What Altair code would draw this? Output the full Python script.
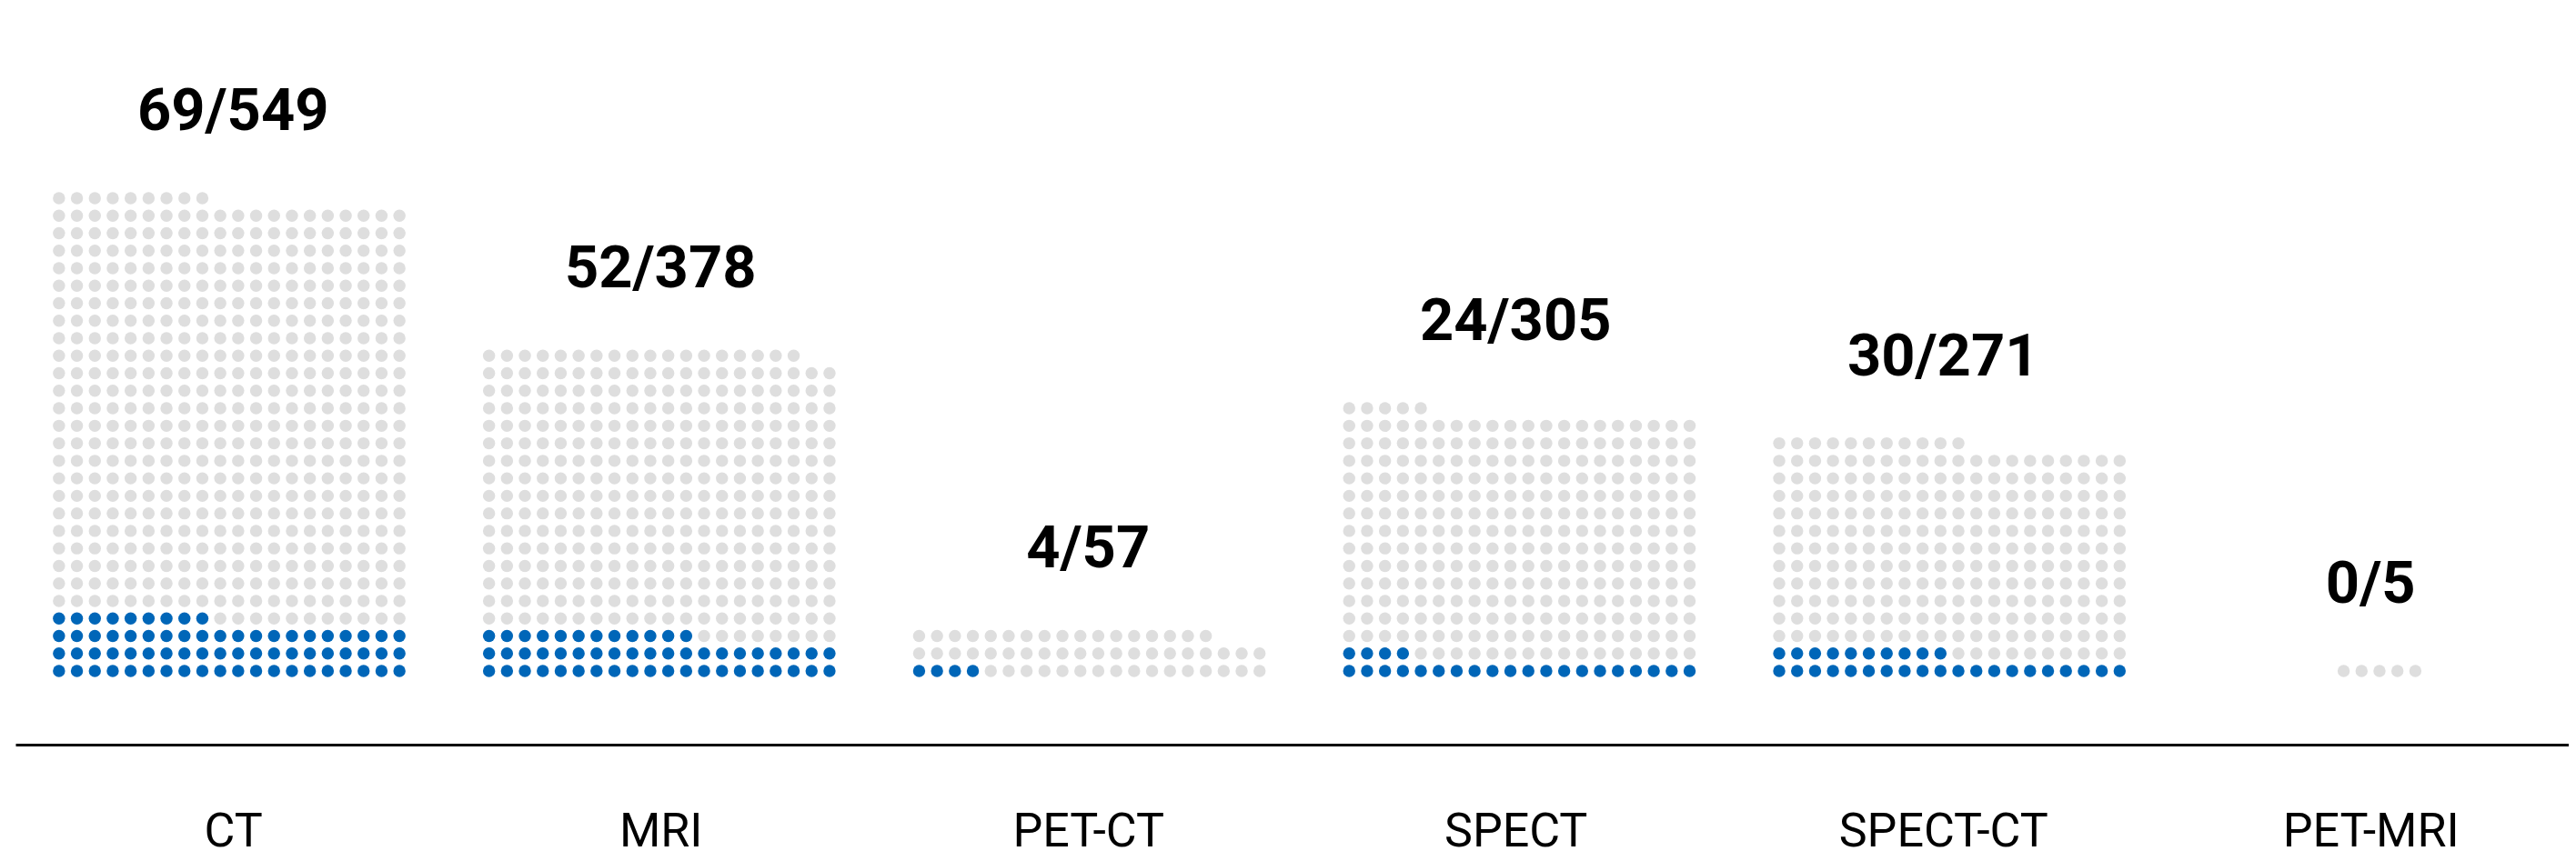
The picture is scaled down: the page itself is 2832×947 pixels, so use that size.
import json
import altair as alt
import pandas as pd

# ---- data ----
categories = ["CT", "MRI", "PET-CT", "SPECT", "SPECT-CT", "PET-MRI"]
totals = [549, 378, 57, 305, 271, 5]
positives = [69, 52, 4, 24, 30, 0]

COLS = 20          # dots per row
BAND_UNITS = 24    # dot-columns allotted to each category
BLUE = "#0066b8"
GRAY = "#dedede"

# build dot table (one row per study)
dots = []
for i, (cat, tot, pos) in enumerate(zip(categories, totals, positives)):
    nc = min(COLS, tot)
    for k in range(tot):
        row = k // COLS
        col = k % COLS
        dots.append({
            "category": cat,
            "u": i * BAND_UNITS + col - (nc - 1) / 2,
            "row": row,
            "status": "pos" if k < pos else "neg",
        })
dots_df = pd.DataFrame(dots)

labels_df = pd.DataFrame({
    "idx": list(range(len(categories))),
    "category": categories,
    "label": [f"{p}/{t}" for p, t in zip(positives, totals)],
    "top": [(t - 1) // COLS + 3.894 for t in totals],
})

W, H = 2807, 811
yscale = alt.Scale(domain=[-4.206, 37.90], nice=False, zero=False)

dot_layer = alt.Chart(dots_df).mark_circle(size=180, opacity=1).encode(
    x=alt.X("u:Q", scale=alt.Scale(domain=[-11.929, 130.56], nice=False, zero=False), axis=None),
    y=alt.Y("row:Q", scale=yscale, axis=None),
    color=alt.Color("status:N", scale=alt.Scale(domain=["pos", "neg"], range=[BLUE, GRAY]), legend=None),
)

label_expr = f"{json.dumps(categories)}[datum.value]"

text_layer = alt.Chart(labels_df).mark_text(
    font="Roboto", fontSize=65, fontWeight="bold", color="black", baseline="alphabetic", align="center"
).encode(
    x=alt.X("idx:Q",
            scale=alt.Scale(domain=[-0.5089, 5.4634], nice=False, zero=False),
            axis=alt.Axis(values=list(range(len(categories))), labelExpr=label_expr, title=None,
                          grid=False, ticks=False, domain=True, domainColor="black", domainWidth=3,
                          labelFont="Roboto", labelFontSize=52, labelColor="black",
                          labelBaseline="alphabetic", labelPadding=111, labelLimit=0,
                          labelFlush=False, labelOverlap=False)),
    y=alt.Y("top:Q", scale=yscale, axis=None),
    text="label:N",
)

chart = alt.layer(dot_layer, text_layer).resolve_scale(x="independent").properties(
    width=W, height=H,
    padding={"left": 9, "top": 0, "right": 0, "bottom": 0},
).configure_view(strokeWidth=0)

chart.save("out.html", embed_options={"renderer": "svg", "actions": False})
